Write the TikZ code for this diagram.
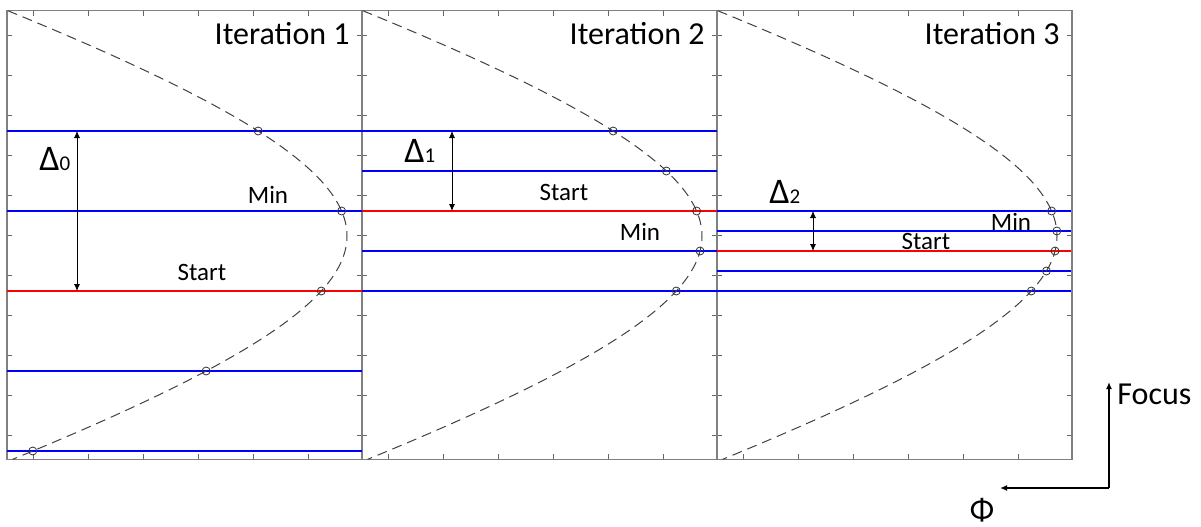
\documentclass[tikz,border=0pt]{standalone}
\usepackage{fontspec}
\setmainfont{Carlito}
\usetikzlibrary{arrows.meta}
\tikzset{
  panelframe/.style={draw=gray, line width=0.6pt},
  tickmark/.style={gray!80!black, line width=0.5pt},
  focuscurve/.style={black!75, line width=0.5pt, dash pattern=on 5pt off 3pt},
  blueline/.style={blue, line width=1.3pt},
  redline/.style={red, line width=1.3pt},
  probe/.style={black!80, line width=0.4pt},
  itertitle/.style={font=\fontsize{16}{18}\selectfont, inner sep=0pt, anchor=base east},
  steplabel/.style={font=\fontsize{12.5}{14}\selectfont, inner sep=0pt, anchor=base},
  deltalabel/.style={inner sep=0pt, anchor=base west},
  declare function={focx(\t)=340-563.4*(sqrt(1+((\t-236)/180)^2)-1);},
}
\newcommand{\deltatext}[1]{{\fontsize{18}{20}\selectfont Δ}{\fontsize{10.5}{12}\selectfont #1}}
\begin{document}
\begin{tikzpicture}[x=0.5pt, y=-0.5pt, >={Latex[length=3.5pt,width=3pt]}]
    \useasboundingbox (0,0) rectangle (1201,526);

    % 1. Frames, ticks, titles
    \foreach \ox/\k in {7/1,362/2,717/3} {
        \begin{scope}[shift={(\ox,0)}]
            \foreach \ty in {35,75,...,435} {
                \draw[tickmark] (0,\ty) -- (5,\ty);
                \draw[tickmark] (355,\ty) -- (350,\ty);
            }
            \foreach \tx in {26,81,...,301} {
                \draw[tickmark] (\tx,10.7) -- (\tx,16);
                \draw[tickmark] (\tx,459.3) -- (\tx,454);
            }
            \draw[panelframe] (0,10.7) rectangle (355,459.3);
            \node[itertitle] (iter\k) at (343,44) {Iteration \k};
        \end{scope}
    }

    % 2. Focus positions tried
    \draw[blueline] (7,131) -- (362,131);
    \draw[blueline] (7,211) -- (362,211);
    \draw[redline]  (7,291) -- (362,291);
    \draw[blueline] (7,371) -- (362,371);
    \draw[blueline] (7,451) -- (362,451);

    \draw[blueline] (362,131) -- (717,131);
    \draw[blueline] (362,171) -- (717,171);
    \draw[redline]  (362,211) -- (717,211);
    \draw[blueline] (362,251) -- (717,251);
    \draw[blueline] (362,291) -- (717,291);

    \draw[blueline] (717,211) -- (1071,211);
    \draw[blueline] (717,231) -- (1071,231);
    \draw[redline]  (717,251) -- (1071,251);
    \draw[blueline] (717,271) -- (1071,271);
    \draw[blueline] (717,291) -- (1071,291);

    % 3. Curve
    \foreach \ox in {7,362,717} {
        \draw[focuscurve, samples=120, domain=10.7:459.3]
            plot ({\ox+focx(\x)}, \x);
    }
    \foreach \ox/\py in {7/131,7/211,7/291,7/371,7/451,
                         362/131,362/171,362/211,362/251,362/291,
                         717/211,717/231,717/251,717/271,717/291} {
        \draw[probe] ({\ox+focx(\py)},\py) circle[radius=2pt];
    }

    % 4. Step widths
    \coordinate (d0top) at (77,131);
    \coordinate (d0bot) at (77,291);
    \coordinate (d1top) at (452,131);
    \coordinate (d1bot) at (452,211);
    \coordinate (d2top) at (813,211);
    \coordinate (d2bot) at (813,251);
    \draw[<->, line width=0.4pt] (d0top) -- (d0bot);
    \draw[<->, line width=0.4pt] (d1top) -- (d1bot);
    \draw[<->, line width=0.4pt] (d2top) -- (d2bot);
    \node[deltalabel] (delta0) at (39,170) {\deltatext{0}};
    \node[deltalabel] (delta1) at (404,162) {\deltatext{1}};
    \node[deltalabel] (delta2) at (769,203) {\deltatext{2}};

    \node[steplabel] (min1) at (268,203) {Min};
    \node[steplabel] (start1) at (202,280) {Start};
    \node[steplabel] (start2) at (564,200) {Start};
    \node[steplabel] (min2) at (640,240) {Min};
    \node[steplabel] (min3) at (1011,230) {Min};
    \node[steplabel] (start3) at (926,249) {Start};

    % 5. Axes
    \coordinate (axcorner) at (1109,488);
    \coordinate (focustip) at (1109,382);
    \coordinate (phitip) at (1000,488);
    \draw[->, line width=0.8pt] (axcorner) -- (focustip);
    \draw[->, line width=0.8pt] (axcorner) -- (phitip);
    \node[font=\fontsize{16}{18}\selectfont, inner sep=0pt, anchor=base west] (focus) at (1117,404) {Focus};
    \node[font=\fontsize{16}{18}\selectfont, inner sep=0pt, anchor=south] (phi) at (982,523) {Φ};
\end{tikzpicture}
\end{document}
